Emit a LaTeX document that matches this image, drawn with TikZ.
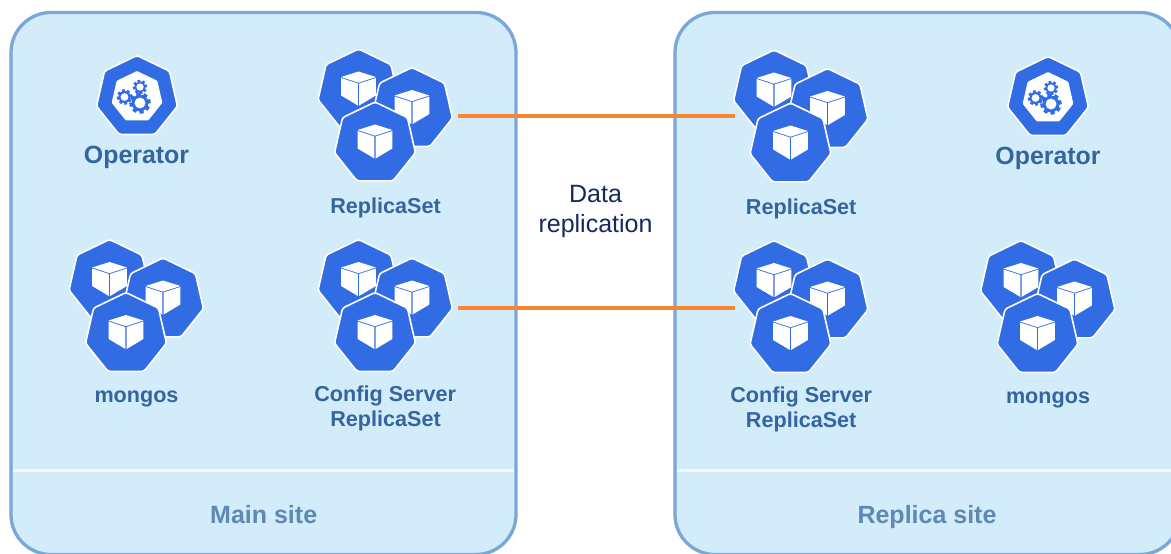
\documentclass[tikz,border=0pt]{standalone}
\usepackage{fontspec}
\setmainfont{Liberation Sans}
\usetikzlibrary{shapes.geometric}
\definecolor{panelfill}{HTML}{D3ECFA}
\definecolor{panelline}{HTML}{7BA6D9}
\definecolor{kblue}{HTML}{326CE5}
\definecolor{labelblue}{HTML}{35659F}
\definecolor{sitegray}{HTML}{5F88B2}
\definecolor{navy}{HTML}{15295C}
\definecolor{linkorange}{HTML}{F58634}
\definecolor{sepline}{HTML}{F2F9FD}
\tikzset{
  panel/.style={draw=panelline,fill=panelfill,line width=3.3pt,rounded corners=40pt},
  sep/.style={draw=sepline,line width=2.8pt},
  hept/.style={regular polygon,regular polygon sides=7,minimum size=83pt,inner sep=0pt,outer sep=0pt,
    fill=kblue,draw=white,line width=1.6pt,rounded corners=2.5pt},
  innerhept/.style={regular polygon,regular polygon sides=7,minimum size=52pt,inner sep=0pt,outer sep=0pt,
    fill=white,rounded corners=1pt},
  big/.style={font=\bfseries\fontsize{24.9}{28}\selectfont,text=labelblue,inner sep=0pt,anchor=base},
  small/.style={font=\bfseries\fontsize{21.6}{24}\selectfont,text=labelblue,inner sep=0pt,anchor=base},
  site/.style={font=\bfseries\fontsize{25}{28}\selectfont,text=sitegray,inner sep=0pt,anchor=base},
  datatext/.style={font=\fontsize{25}{30}\selectfont,text=navy,inner sep=0pt,anchor=base,align=center},
  link/.style={draw=linkorange,line width=3.6pt},
}
\newcommand\kcube[2]{%
  \begin{scope}[shift={(#1,#2)}]
    \fill[white] (-17.4,-13.5) -- (0,-19) -- (17.4,-13.5) -- (0,-7.8) -- cycle;
    \fill[white] (-17.4,-12.5) -- (-0.6,-7) -- (-0.6,15) -- (-17.4,5) -- cycle;
    \fill[white] (17.4,-12.5) -- (0.6,-7) -- (0.6,15) -- (17.4,5) -- cycle;
  \end{scope}}
\newcommand\khept[3]{%
  \node[hept] (#1) at (#2,#3) {};
  \kcube{#2}{#3}}
\newcommand\kgroup[3]{%
  \khept{#1l}{#2-16.5}{#3-53}
  \khept{#1r}{#2+37}{#3-34.5}
  \khept{#1f}{#2}{#3}}
\newcommand\kgear[3]{%
  \begin{scope}[shift={(#1,#2)}]
    \fill[kblue] (0,0) circle (#3*0.8);
    \foreach \a in {0,45,...,315}{\fill[kblue,rotate=\a+10] (-#3*0.18,-#3) rectangle (#3*0.18,#3);}
    \fill[white] (0,0) circle (#3*0.52);
  \end{scope}}
\newcommand\koperator[3]{%
  \node[hept] (#1) at (#2,#3) {};
  \node[innerhept] (#1i) at (#2,#3) {};
  \kgear{#2+3}{#3+6}{10.5}
  \kgear{#2+3}{#3-10}{7}
  \kgear{#2-12.5}{#3}{7.5}}
\begin{document}
\begin{tikzpicture}[x=1pt,y=-1pt]
\useasboundingbox (0,0) rectangle (1171,554);
\clip (0,0) rectangle (1171,554);
% panels
\draw[panel] (11,554.5) -- (11,12.5) -- (516,12.5) -- (516,554.5) -- cycle;
\draw[panel] (675,554.5) -- (675,12.5) -- (1180,12.5) -- (1180,554.5) -- cycle;
\coordinate (sepAa) at (12.6,470.5);
\coordinate (sepAb) at (514.4,470.5);
\coordinate (sepBa) at (676.6,470.5);
\coordinate (sepBb) at (1178,470.5);
\draw[sep] (sepAa) -- (sepAb);
\draw[sep] (sepBa) -- (sepBb);
% links
\coordinate (repA) at (458,116);
\coordinate (repB) at (735,116);
\coordinate (cfgA) at (458,308);
\coordinate (cfgB) at (735,308);
\draw[link] (repA) -- (repB);
\draw[link] (cfgA) -- (cfgB);
% main site
\koperator{opA}{137}{97}
\kgroup{rsA}{375}{143.5}
\kgroup{msA}{126}{334}
\kgroup{csA}{375}{334}
\node[big] (opAt) at (136.5,163.7) {Operator};
\node[small] (rsAt) at (385.5,213.3) {ReplicaSet};
\node[small] (msAt) at (136.5,402.5) {mongos};
\node[small] (csAt) at (385.2,401.7) {Config Server};
\node[small] (csAu) at (385.5,426) {ReplicaSet};
\node[site] (siteA) at (263.7,523.7) {Main site};
% replica site
\koperator{opB}{1048}{98}
\kgroup{rsB}{790.5}{144.5}
\kgroup{msB}{1037.5}{335}
\kgroup{csB}{790.5}{335}
\node[big] (opBt) at (1048,164.5) {Operator};
\node[small] (rsBt) at (801.2,214.3) {ReplicaSet};
\node[small] (msBt) at (1048,403.5) {mongos};
\node[small] (csBt) at (801.2,402.7) {Config Server};
\node[small] (csBu) at (801.2,427) {ReplicaSet};
\node[site] (siteB) at (927,523.7) {Replica site};
% centre label
\node[datatext] (dataA) at (595.5,202.7) {Data};
\node[datatext] (dataB) at (595.5,232.7) {replication};
\end{tikzpicture}
\end{document}
